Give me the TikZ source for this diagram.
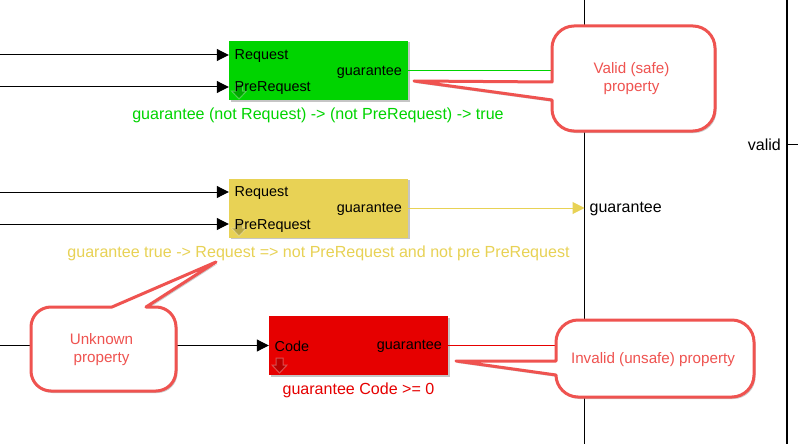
\documentclass[tikz,border=0pt]{standalone}
\usepackage{xcolor}
\usepackage{fontspec}
\setmainfont{Liberation Sans}
\usetikzlibrary{arrows.meta,shadows}
\definecolor{validgreen}{HTML}{00D400}
\definecolor{unknownyellow}{HTML}{E8D255}
\definecolor{invalidred}{HTML}{E60000}
\definecolor{calloutred}{HTML}{EF5350}
\tikzset{
	sigline/.style={black, line width=1pt, -{Triangle[length=12pt,width=12pt]}},
	busline/.style={black, line width=1.4pt},
	outline/.style={line width=1pt},
	propblock/.style={minimum width=179pt, minimum height=59pt, inner sep=0pt,
		drop shadow={shadow xshift=1.5pt, shadow yshift=-1.5pt, opacity=0.45}},
	portlabel/.style={font=\fontsize{14.4}{16}\selectfont, inner sep=0pt},
	framelabel/.style={font=\fontsize{16}{18}\selectfont, inner sep=0pt},
	proplabel/.style={font=\fontsize{16.06}{18}\selectfont, inner sep=0pt},
	calloutbox/.style={draw=calloutred, fill=white, line width=3pt, line join=round,
		drop shadow={shadow xshift=1.5pt, shadow yshift=-2pt, opacity=0.4}},
	callouttext/.style={font=\fontsize{15.2}{18}\selectfont, text=calloutred, align=center, inner sep=0pt},
}
\newcommand{\downmark}[2]{%
	\filldraw[fill=black, draw=white, draw opacity=0.3, fill opacity=0.2, line width=1pt]
		(#1-3.5,#2-7.5) -- (#1+3.5,#2-7.5) -- (#1+3.5,#2-0.5) -- (#1+7.5,#2-0.5) -- (#1,#2+7.5) -- (#1-7.5,#2-0.5) -- (#1-3.5,#2-0.5) -- cycle;
}

\begin{document}
\begin{tikzpicture}[x=1pt,y=-1pt]
	% Fixed white canvas in reference pixels.
	\path[use as bounding box] (0,0) rectangle (798,444);
	\fill[white] (0,0) rectangle (798,444);

	% Free ends of the signal lines and the two vertical frame lines.
	\coordinate (srcone) at (0,55);
	\coordinate (srctwo) at (0,87);
	\coordinate (srcthree) at (0,192);
	\coordinate (srcfour) at (0,224);
	\coordinate (srcfive) at (0,345.5);
	\coordinate (frameltop) at (584.5,0);
	\coordinate (framelbot) at (584.5,444);
	\coordinate (framertop) at (787,0);
	\coordinate (framerbot) at (787,444);
	\coordinate (validend) at (798,144);
	\draw[busline] (frameltop) -- (framelbot);
	\draw[busline, line width=1.8pt] (framertop) -- (framerbot);

	% Property blocks.
	\node[propblock, fill=validgreen] (greenblock) at (318.5,70.5) {};
	\node[propblock, fill=unknownyellow] (yellowblock) at (318.5,208) {};
	\node[propblock, fill=invalidred] (redblock) at (358.5,345.5) {};

	% Inputs.
	\draw[sigline] (srcone) -- (srcone -| greenblock.west);
	\draw[sigline] (srctwo) -- (srctwo -| greenblock.west);
	\draw[sigline] (srcthree) -- (srcthree -| yellowblock.west);
	\draw[sigline] (srcfour) -- (srcfour -| yellowblock.west);
	\draw[sigline] (srcfive) -- (srcfive -| redblock.west);

	% Outputs.
	\draw[outline, validgreen] (greenblock.east) -- (greenblock.east -| frameltop);
	\draw[outline, unknownyellow, -{Triangle[length=12pt,width=12pt]}] (yellowblock.east) -- (yellowblock.east -| frameltop);
	\draw[outline, invalidred] (redblock.east) -- (redblock.east -| frameltop);

	% Small marks in the block corners.
	\downmark{239}{91.5}
	\downmark{239}{228.5}
	\downmark{279.5}{365.5}

	% Port labels.
	\node[portlabel, anchor=west] (greenreq) at (234.5,56) {Request};
	\node[portlabel, anchor=west] (greenpre) at (234.5,88.5) {PreRequest};
	\node[portlabel, anchor=east] (greenout) at (402,72) {guarantee};
	\node[portlabel, anchor=west] (yellowreq) at (234.5,193.5) {Request};
	\node[portlabel, anchor=west] (yellowpre) at (234.5,226) {PreRequest};
	\node[portlabel, anchor=east] (yellowout) at (402,209.5) {guarantee};
	\node[portlabel, anchor=west] (redcode) at (274.5,346.5) {Code};
	\node[portlabel, anchor=east] (redout) at (442,346.5) {guarantee};

	% Texts under the blocks.
	\node[proplabel, text=validgreen] (greenprop) at (318,115) {guarantee (not Request) -> (not PreRequest) -> true};
	\node[proplabel, text=unknownyellow] (yellowprop) at (318.5,253) {guarantee true -> Request => not PreRequest and not pre PreRequest};
	\node[proplabel, text=invalidred] (redprop) at (358.5,390) {guarantee Code >= 0};

	% Frame labels.
	\node[framelabel, anchor=west] (guarlabel) at (589.5,209) {guarantee};
	\node[framelabel, anchor=east] (validlabel) at (781,145) {valid};
	\draw[outline, black] (framertop |- validend) -- (validend);

	% Callouts on top of the lines.
	\draw[calloutbox] (552,100) -- (552,109) .. controls (552,121) and (562,131) .. (574,131)
		-- (693,131) .. controls (705,131) and (715,121) .. (715,109)
		-- (715,48) .. controls (715,36) and (705,26) .. (693,26)
		-- (574,26) .. controls (562,26) and (552,36) .. (552,48)
		-- (552,82) -- (414,81) -- cycle;
	\node[callouttext] (validcall) at (631.5,79) {Valid (safe)\\property};

	\draw[calloutbox] (146,307) -- (156,307) .. controls (167,307) and (176,316) .. (176,327)
		-- (176,371) .. controls (176,382) and (167,391) .. (156,391)
		-- (51,391) .. controls (40,391) and (31,382) .. (31,371)
		-- (31,327) .. controls (31,316) and (40,307) .. (51,307)
		-- (112,307) -- (216,262) -- cycle;
	\node[callouttext] (unknowncall) at (101.5,349.5) {Unknown\\property};

	\draw[calloutbox] (556,375) .. controls (556,387) and (566,397) .. (578,397)
		-- (732,397) .. controls (744,397) and (754,387) .. (754,375)
		-- (754,342) .. controls (754,330) and (744,320) .. (732,320)
		-- (578,320) .. controls (566,320) and (556,330) .. (556,342)
		-- (556,361) -- (456,361) -- cycle;
	\node[callouttext] (invalidcall) at (653,359.5) {Invalid (unsafe) property};
\end{tikzpicture}
\end{document}
